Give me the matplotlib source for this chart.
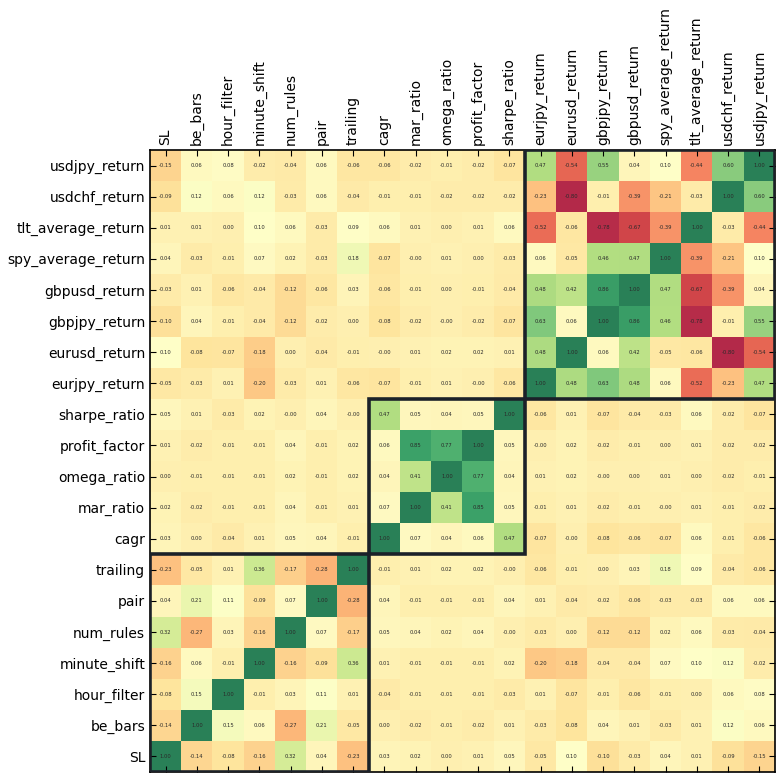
import matplotlib
matplotlib.use("Agg")
import matplotlib.pyplot as plt
import numpy as np

labels = ['SL', 'be_bars', 'hour_filter', 'minute_shift', 'num_rules', 'pair', 'trailing',
          'cagr', 'mar_ratio', 'omega_ratio', 'profit_factor', 'sharpe_ratio',
          'eurjpy_return', 'eurusd_return', 'gbpjpy_return', 'gbpusd_return',
          'spy_average_return', 'tlt_average_return', 'usdchf_return', 'usdjpy_return']

# rows in label order (SL first), columns in label order
corr_rows = [
    [1.00, -0.14, -0.08, -0.16, 0.32, 0.04, -0.23, 0.03, 0.02, 0.00, 0.01, 0.05, -0.05, 0.10, -0.10, -0.03, 0.04, 0.01, -0.09, -0.15],
    [-0.14, 1.00, 0.15, 0.06, -0.27, 0.21, -0.05, 0.00, -0.02, -0.01, -0.02, 0.01, -0.03, -0.08, 0.04, 0.01, -0.03, 0.01, 0.12, 0.06],
    [-0.08, 0.15, 1.00, -0.01, 0.03, 0.11, 0.01, -0.04, -0.01, -0.01, -0.01, -0.03, 0.01, -0.07, -0.01, -0.06, -0.01, 0.00, 0.06, 0.08],
    [-0.16, 0.06, -0.01, 1.00, -0.16, -0.09, 0.36, 0.01, -0.01, -0.01, -0.01, 0.02, -0.20, -0.18, -0.04, -0.04, 0.07, 0.10, 0.12, -0.02],
    [0.32, -0.27, 0.03, -0.16, 1.00, 0.07, -0.17, 0.05, 0.04, 0.02, 0.04, -0.0, -0.03, 0.00, -0.12, -0.12, 0.02, 0.06, -0.03, -0.04],
    [0.04, 0.21, 0.11, -0.09, 0.07, 1.00, -0.28, 0.04, -0.01, -0.01, -0.01, 0.04, 0.01, -0.04, -0.02, -0.06, -0.03, -0.03, 0.06, 0.06],
    [-0.23, -0.05, 0.01, 0.36, -0.17, -0.28, 1.00, -0.01, 0.01, 0.02, 0.02, -0.0, -0.06, -0.01, 0.00, 0.03, 0.18, 0.09, -0.04, -0.06],
    [0.03, 0.00, -0.04, 0.01, 0.05, 0.04, -0.01, 1.00, 0.07, 0.04, 0.06, 0.47, -0.07, -0.0, -0.08, -0.06, -0.07, 0.06, -0.01, -0.06],
    [0.02, -0.02, -0.01, -0.01, 0.04, -0.01, 0.01, 0.07, 1.00, 0.41, 0.85, 0.05, -0.01, 0.01, -0.02, -0.01, -0.0, 0.01, -0.01, -0.02],
    [0.00, -0.01, -0.01, -0.01, 0.02, -0.01, 0.02, 0.04, 0.41, 1.00, 0.77, 0.04, 0.01, 0.02, -0.0, 0.00, 0.01, 0.00, -0.02, -0.01],
    [0.01, -0.02, -0.01, -0.01, 0.04, -0.01, 0.02, 0.06, 0.85, 0.77, 1.00, 0.05, -0.0, 0.02, -0.02, -0.01, 0.00, 0.01, -0.02, -0.02],
    [0.05, 0.01, -0.03, 0.02, -0.0, 0.04, -0.0, 0.47, 0.05, 0.04, 0.05, 1.00, -0.06, 0.01, -0.07, -0.04, -0.03, 0.06, -0.02, -0.07],
    [-0.05, -0.03, 0.01, -0.20, -0.03, 0.01, -0.06, -0.07, -0.01, 0.01, -0.0, -0.06, 1.00, 0.48, 0.63, 0.48, 0.06, -0.52, -0.23, 0.47],
    [0.10, -0.08, -0.07, -0.18, 0.00, -0.04, -0.01, -0.0, 0.01, 0.02, 0.02, 0.01, 0.48, 1.00, 0.06, 0.42, -0.05, -0.06, -0.80, -0.54],
    [-0.10, 0.04, -0.01, -0.04, -0.12, -0.02, 0.00, -0.08, -0.02, -0.0, -0.02, -0.07, 0.63, 0.06, 1.00, 0.86, 0.46, -0.78, -0.01, 0.55],
    [-0.03, 0.01, -0.06, -0.04, -0.12, -0.06, 0.03, -0.06, -0.01, 0.00, -0.01, -0.04, 0.48, 0.42, 0.86, 1.00, 0.47, -0.67, -0.39, 0.04],
    [0.04, -0.03, -0.01, 0.07, 0.02, -0.03, 0.18, -0.07, -0.0, 0.01, 0.00, -0.03, 0.06, -0.05, 0.46, 0.47, 1.00, -0.39, -0.21, 0.10],
    [0.01, 0.01, 0.00, 0.10, 0.06, -0.03, 0.09, 0.06, 0.01, 0.00, 0.01, 0.06, -0.52, -0.06, -0.78, -0.67, -0.39, 1.00, -0.03, -0.44],
    [-0.09, 0.12, 0.06, 0.12, -0.03, 0.06, -0.04, -0.01, -0.01, -0.02, -0.02, -0.02, -0.23, -0.80, -0.01, -0.39, -0.21, -0.03, 1.00, 0.60],
    [-0.15, 0.06, 0.08, -0.02, -0.04, 0.06, -0.06, -0.06, -0.02, -0.01, -0.02, -0.07, 0.47, -0.54, 0.55, 0.04, 0.10, -0.44, 0.60, 1.00],
]

# blocks of related columns: params, metrics, returns
group_sizes = [7, 5, 8]

corr = np.array(corr_rows)
n = len(labels)

fig = plt.figure(figsize=(7.76, 7.76), dpi=100)
ax = fig.add_axes([150 / 776, 4 / 776, 625 / 776, 622 / 776])

ax.imshow(corr, cmap='RdYlGn', origin='lower', alpha=0.84, aspect='auto',
          interpolation='nearest')

for i in range(n):
    for j in range(n):
        ax.text(j, i, f'{corr[i, j]:.2f}', ha='center', va='center',
                fontsize=3.8, color='#2a2a2a')

start = 0
for size in group_sizes:
    rect = plt.Rectangle((start - 0.5, start - 0.5), size, size, fill=False,
                         edgecolor='#1b2129', linewidth=2.6, zorder=5)
    ax.add_patch(rect)
    start += size

ax.set_xticks(range(n))
ax.set_yticks(range(n))
ax.set_xticklabels(labels, rotation=90, fontsize=10)
ax.set_yticklabels(labels, fontsize=10)
ax.tick_params(direction='in', top=True, bottom=True, left=True, right=True,
               labeltop=True, labelbottom=False, length=4, width=0.8)
ax.set_xlim(-0.5, n - 0.5)
ax.set_ylim(-0.5, n - 0.5)
for s in ax.spines.values():
    s.set_linewidth(1.2)

fig.savefig('out.png', dpi=100)
